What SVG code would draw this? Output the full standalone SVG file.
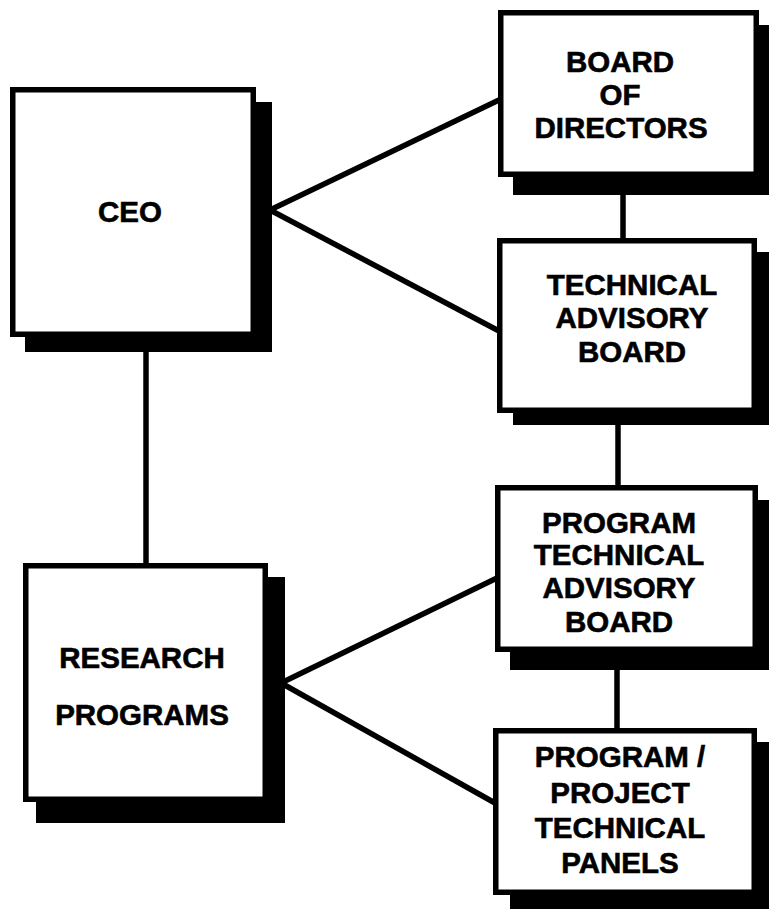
<svg xmlns="http://www.w3.org/2000/svg" width="769" height="909" viewBox="0 0 769 909">
<style>
.box{fill:#fff;stroke:#000;stroke-width:5.5}
.sh{fill:#000}
.t{font-family:"Liberation Sans",Arial,Helvetica,sans-serif;font-weight:bold;font-size:29.5px;fill:#000;stroke:#000;stroke-width:0.6;text-anchor:middle}
.c{stroke:#000;stroke-width:5.5;fill:none;stroke-linecap:butt}
</style>
<rect width="769" height="909" fill="#fff"/>
<g id="connectors">
<line class="c" x1="146" y1="350" x2="146" y2="566"/>
<line class="c" x1="270" y1="210" x2="499" y2="100"/>
<line class="c" x1="270" y1="210" x2="499" y2="331"/>
<line class="c" x1="623" y1="193" x2="623" y2="240"/>
<line class="c" x1="618" y1="423" x2="618" y2="487"/>
<line class="c" x1="617" y1="668" x2="617" y2="730"/>
<line class="c" x1="281" y1="683" x2="497" y2="578"/>
<line class="c" x1="281" y1="683" x2="495" y2="803"/>
</g>
<g id="ceo">
<rect class="sh" x="25" y="102" width="247" height="250"/>
<rect class="box" x="12.75" y="89.75" width="240.5" height="244.5"/>
<text class="t" x="130" y="222">CEO</text>
</g>
<g id="board">
<rect class="sh" x="513" y="25" width="260" height="170"/>
<rect class="box" x="500.75" y="12.75" width="255.5" height="161.5"/>
<text class="t" x="620" y="72">BOARD</text>
<text class="t" x="620" y="105">OF</text>
<text class="t" x="621" y="138">DIRECTORS</text>
</g>
<g id="tab">
<rect class="sh" x="513" y="252" width="260" height="173"/>
<rect class="box" x="499.75" y="240.75" width="254.5" height="169.5"/>
<text class="t" x="632" y="295">TECHNICAL</text>
<text class="t" x="632" y="328">ADVISORY</text>
<text class="t" x="632" y="362">BOARD</text>
</g>
<g id="ptab">
<rect class="sh" x="510" y="500" width="263" height="170"/>
<rect class="box" x="497.75" y="487.75" width="257.5" height="161.5"/>
<text class="t" x="619" y="533">PROGRAM</text>
<text class="t" x="619" y="565">TECHNICAL</text>
<text class="t" x="619" y="598">ADVISORY</text>
<text class="t" x="619" y="632">BOARD</text>
</g>
<g id="pptp">
<rect class="sh" x="510" y="742" width="263" height="170"/>
<rect class="box" x="495.75" y="730.75" width="258.5" height="161.5"/>
<text class="t" x="620" y="767">PROGRAM /</text>
<text class="t" x="620" y="803">PROJECT</text>
<text class="t" x="620" y="838">TECHNICAL</text>
<text class="t" x="620" y="873">PANELS</text>
</g>
<g id="research">
<rect class="sh" x="36" y="577" width="249" height="246"/>
<rect class="box" x="25.75" y="565.75" width="239.5" height="233.5"/>
<text class="t" x="142" y="668">RESEARCH</text>
<text class="t" x="142" y="725">PROGRAMS</text>
</g>
</svg>
